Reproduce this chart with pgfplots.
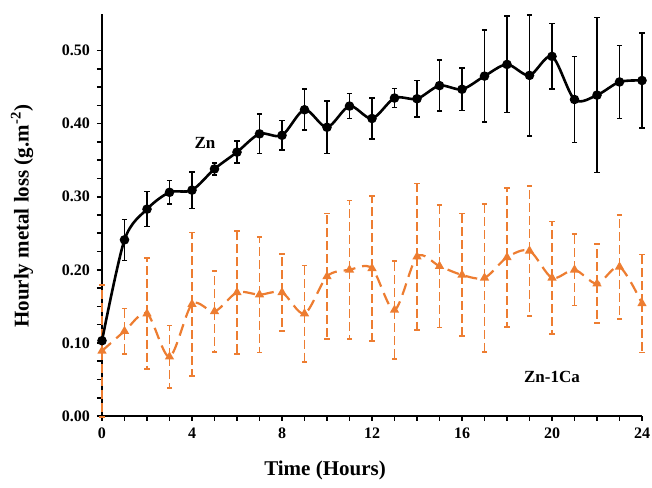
\documentclass[border=0pt]{standalone}
\usepackage{fontspec}
\setmainfont{Liberation Serif}
\usepackage{pgfplots}
\pgfplotsset{compat=1.18}

\definecolor{caorange}{RGB}{237,125,49}

% columns: time, mean, half error bar
\pgfplotstableread{
x y e
0 0.103 0
1 0.241 0.028
2 0.283 0.024
3 0.306 0.016
4 0.309 0.025
5 0.338 0.008
6 0.361 0.015
7 0.386 0.027
8 0.384 0.020
9 0.419 0.028
10 0.395 0.036
11 0.424 0.017
12 0.407 0.028
13 0.435 0.013
14 0.434 0.025
15 0.452 0.035
16 0.447 0.029
17 0.465 0.063
18 0.481 0.066
19 0.466 0.083
20 0.492 0.045
21 0.433 0.059
22 0.439 0.106
23 0.457 0.050
24 0.459 0.065
}\zn

\pgfplotstableread{
x y e
0 0.089 0.090
1 0.116 0.031
2 0.140 0.076
3 0.081 0.043
4 0.153 0.098
5 0.143 0.055
6 0.169 0.084
7 0.166 0.079
8 0.169 0.053
9 0.140 0.066
10 0.191 0.086
11 0.200 0.095
12 0.202 0.099
13 0.145 0.067
14 0.218 0.100
15 0.205 0.084
16 0.193 0.084
17 0.189 0.101
18 0.217 0.095
19 0.226 0.089
20 0.189 0.077
21 0.200 0.049
22 0.181 0.054
23 0.204 0.071
24 0.154 0.067
}\znca

\begin{document}
\begin{tikzpicture}
\begin{axis}[
  scale only axis,
  width=270pt, height=201pt,
  xmin=0, xmax=24, ymin=0, ymax=0.55,
  axis x line*=bottom, axis y line*=left,
  axis line style={-, line width=1pt},
  tick align=outside,
  major tick length=2.5pt, minor tick length=2.5pt,
  every tick/.style={black, line width=0.8pt},
  xtick={0,4,...,24}, minor x tick num=3,
  ytick={0,0.1,...,0.5}, minor y tick num=3,
  /pgf/number format/assume math mode=true,
  yticklabel style={/pgf/number format/.cd, fixed, fixed zerofill, precision=2},
  ticklabel style={font=\fontsize{8}{9.6}\selectfont\bfseries},
  xlabel={Time (Hours)},
  ylabel={Hourly metal loss (g.m\textsuperscript{-2})},
  label style={font=\fontsize{10.5}{12}\selectfont\bfseries},
  xlabel style={at={(axis description cs:0.413,0)}, anchor=center, yshift=-27pt},
  ylabel style={at={(axis description cs:-0.148,0.497)}, anchor=center},
  clip=false,
]
  % Zn-1Ca
  \addplot[color=caorange, line width=1.1pt, dash pattern=on 6pt off 3.5pt, smooth,
    mark=triangle*, mark size=1.6pt, mark options={solid},
    error bars/.cd, y dir=both, y explicit,
    error bar style={line width=0.85pt, dash pattern=on 4.5pt off 2pt},
    error mark options={rotate=90, mark size=1.3pt, solid, line width=0.85pt}]
    table[x=x, y=y, y error=e] {\znca};

  % Zn
  \addplot[color=black, line width=1.3pt, smooth,
    mark=*, mark size=1.7pt,
    error bars/.cd, y dir=both, y explicit,
    error bar style={line width=0.8pt, solid},
    error mark options={rotate=90, mark size=1.3pt, line width=0.8pt}]
    table[x=x, y=y, y error=e] {\zn};

  \node[font=\fontsize{8.5}{10}\selectfont\bfseries] at (axis cs:4.58,0.374) {Zn};
  \node[font=\fontsize{8.5}{10}\selectfont\bfseries] at (axis cs:20,0.053) {Zn-1Ca};
\end{axis}
\pgfresetboundingbox
\path (current axis.south west) ++(-51pt,-36pt) rectangle ([shift={(5pt,7pt)}]current axis.north east);
\end{tikzpicture}
\end{document}
